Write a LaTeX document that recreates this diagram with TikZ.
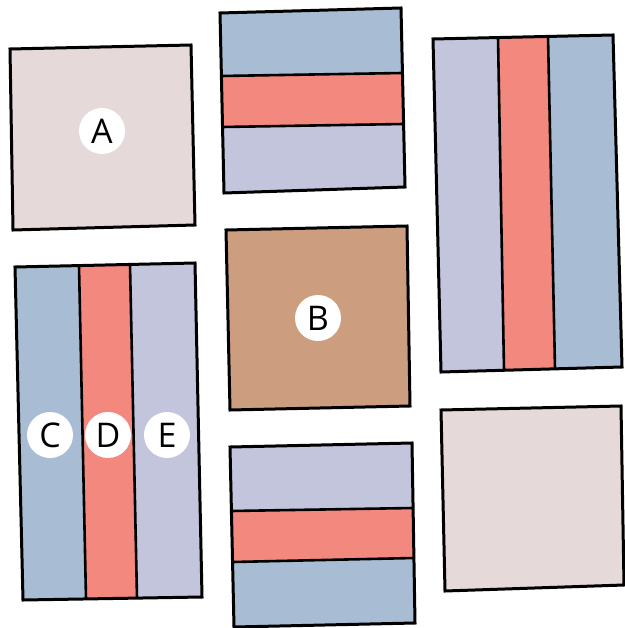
\documentclass[tikz,border=0pt]{standalone}
\usepackage{fontspec}
\setmainfont{Open Sans}
\usepackage{xcolor}
\usepackage{tikz}

\definecolor{stripeblue}{HTML}{A8BCD4}
\definecolor{stripered}{HTML}{F2887E}
\definecolor{stripelav}{HTML}{C2C5DC}
\definecolor{plainpink}{HTML}{E5D9D9}
\definecolor{plainbrown}{HTML}{CC9D7E}

\begin{document}
\begin{tikzpicture}[x=1pt, y=-1pt, box/.style={draw=black, line width=3pt, line join=miter}, divider/.style={draw=black, line width=2.6pt}, every node/.style={circle, fill=white, inner sep=0pt, minimum size=46pt, font=\fontsize{34}{34}\selectfont}]
    \useasboundingbox (0,0) rectangle (624,628);

    % Plain squares
    \filldraw[box, fill=plainpink] (10,49) -- (191,45) -- (195,225) -- (13,230) -- cycle;
    \filldraw[box, fill=plainbrown] (226,230) -- (407,226) -- (410,406) -- (230,410) -- cycle;
    \filldraw[box, fill=plainpink] (441,410) -- (621,406) -- (624,585) -- (445,591) -- cycle;

    % Top middle, horizontal stripes
    \fill[stripeblue] (220,13) -- (401,8) -- (402.5,73) -- (221.4,76) -- cycle;
    \fill[stripered] (221.4,76) -- (402.5,73) -- (403.4,124) -- (222.3,127) -- cycle;
    \fill[stripelav] (222.3,127) -- (403.4,124) -- (405,187) -- (224,193) -- cycle;
    \draw[divider] (221.4,76) -- (402.5,73);
    \draw[divider] (222.3,127) -- (403.4,124);
    \draw[box] (220,13) -- (401,8) -- (405,187) -- (224,193) -- cycle;

    % Bottom middle, horizontal stripes
    \fill[stripelav] (230,447) -- (412,443) -- (413.1,508) -- (231.4,511) -- cycle;
    \fill[stripered] (231.4,511) -- (413.1,508) -- (413.9,558) -- (232.6,562) -- cycle;
    \fill[stripeblue] (232.6,562) -- (413.9,558) -- (415,623) -- (234,627) -- cycle;
    \draw[divider] (231.4,511) -- (413.1,508);
    \draw[divider] (232.6,562) -- (413.9,558);
    \draw[box] (230,447) -- (412,443) -- (415,623) -- (234,627) -- cycle;

    % Top right, vertical stripes
    \fill[stripelav] (433,39) -- (498,37.6) -- (504,370.3) -- (441,372) -- cycle;
    \fill[stripered] (498,37.6) -- (548,36.4) -- (555,368.9) -- (504,370.3) -- cycle;
    \fill[stripeblue] (548,36.4) -- (613,35) -- (622,367) -- (555,368.9) -- cycle;
    \draw[divider] (498,37.6) -- (504,370.3);
    \draw[divider] (548,36.4) -- (555,368.9);
    \draw[box] (433,39) -- (613,35) -- (622,367) -- (441,372) -- cycle;

    % Bottom left, vertical stripes
    \fill[stripeblue] (15,267) -- (79,265.6) -- (86,598.9) -- (23,600) -- cycle;
    \fill[stripered] (79,265.6) -- (130,264.4) -- (137,598.1) -- (86,598.9) -- cycle;
    \fill[stripelav] (130,264.4) -- (195,263) -- (202,597) -- (137,598.1) -- cycle;
    \draw[divider] (79,265.6) -- (86,598.9);
    \draw[divider] (130,264.4) -- (137,598.1);
    \draw[box] (15,267) -- (195,263) -- (202,597) -- (23,600) -- cycle;

    % Labels
    \node (A) at (102,131) {A};
    \node (B) at (318,318) {B};
    \node (C) at (50,435) {C};
    \node (D) at (108,435) {D};
    \node (E) at (167,435) {E};
\end{tikzpicture}
\end{document}
